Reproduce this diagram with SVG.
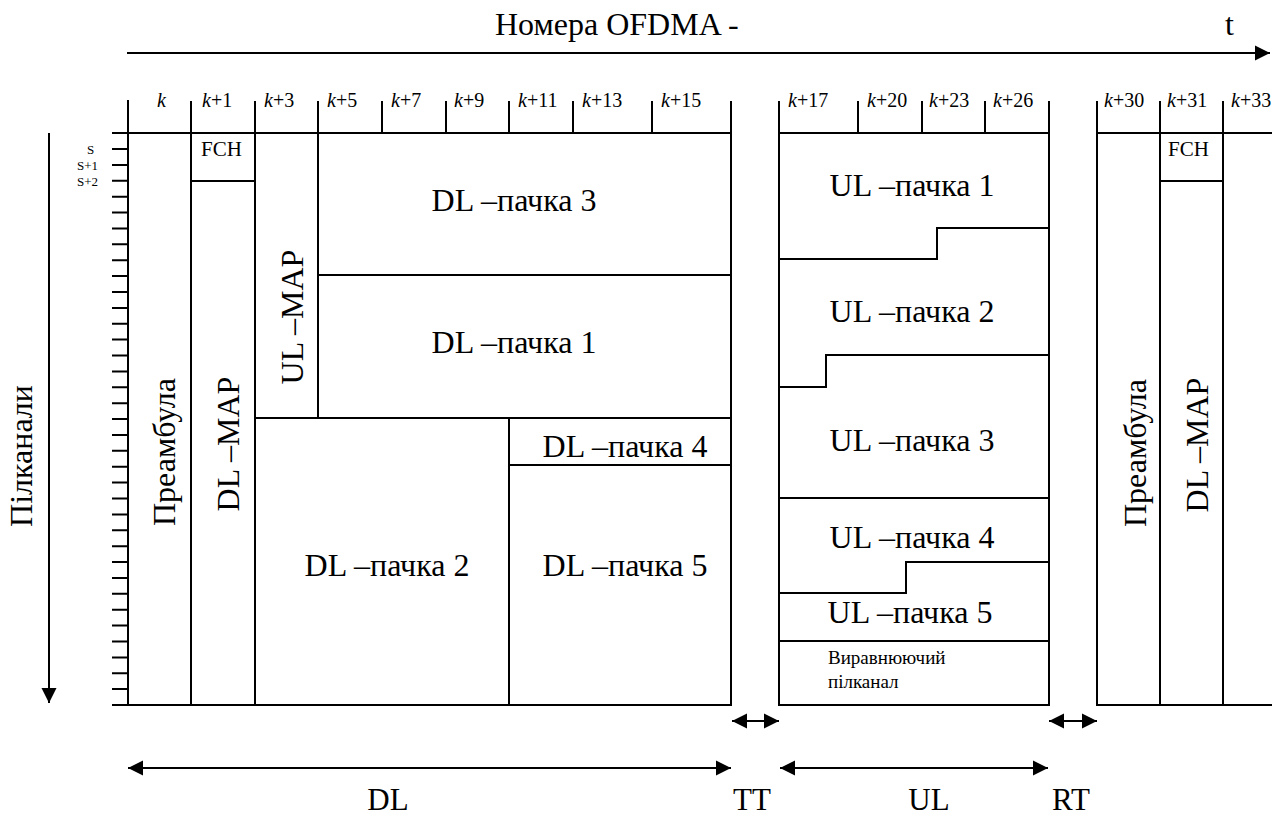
<svg xmlns="http://www.w3.org/2000/svg" width="1286" height="818" viewBox="0 0 1286 818" font-family="'Liberation Serif', 'Times New Roman', 'DejaVu Serif', serif">
<style>
  .ln{fill:none;stroke:#000;stroke-width:2}
  .cell{fill:none;stroke:#000;stroke-width:2}
  text{font-family:'Liberation Serif','Times New Roman','DejaVu Serif',serif;fill:#000}
  .big{font-size:32px}
  .lbl{font-size:20px}
  .sm{font-size:13px}
  .mid{text-anchor:middle}
  .it{font-style:italic}
</style>
<defs>
  <marker id="ah" markerUnits="userSpaceOnUse" markerWidth="16" markerHeight="16" refX="15" refY="8" orient="auto-start-reverse">
    <path d="M0,0.5 L15,8 L0,15.5 z" fill="#000"/>
  </marker>
</defs>
<rect width="1286" height="818" fill="#fff"/>

<!-- axes / scales -->
<g id="scales">
  <text class="big" x="495" y="35">Номера OFDMA -</text>
  <text class="big" x="1225" y="35">t</text>
  <g class="lbl">
    <text x="157" y="107" class="lbl it">k</text>
    <text x="202" y="107" class="lbl"><tspan class="it">k</tspan>+1</text>
    <text x="264" y="107" class="lbl"><tspan class="it">k</tspan>+3</text>
    <text x="327" y="107" class="lbl"><tspan class="it">k</tspan>+5</text>
    <text x="391" y="107" class="lbl"><tspan class="it">k</tspan>+7</text>
    <text x="454" y="107" class="lbl"><tspan class="it">k</tspan>+9</text>
    <text x="518" y="107" class="lbl"><tspan class="it">k</tspan>+11</text>
    <text x="582" y="107" class="lbl"><tspan class="it">k</tspan>+13</text>
    <text x="661" y="107" class="lbl"><tspan class="it">k</tspan>+15</text>
    <text x="788" y="107" class="lbl"><tspan class="it">k</tspan>+17</text>
    <text x="867" y="107" class="lbl"><tspan class="it">k</tspan>+20</text>
    <text x="929" y="107" class="lbl"><tspan class="it">k</tspan>+23</text>
    <text x="993" y="107" class="lbl"><tspan class="it">k</tspan>+26</text>
    <text x="1104" y="107" class="lbl"><tspan class="it">k</tspan>+30</text>
    <text x="1167" y="107" class="lbl"><tspan class="it">k</tspan>+31</text>
    <text x="1231" y="107" class="lbl"><tspan class="it">k</tspan>+33</text>
  </g>
  <g>
    <text class="sm" x="87" y="154">S</text>
    <text class="sm" x="77" y="170">S+1</text>
    <text class="sm" x="77" y="186">S+2</text>
  </g>
  <text class="big mid" transform="translate(32,456) rotate(-90)">Пілканали</text>
  <!-- top ticks and frame lines -->
  <path class="ln" d="M128,100 V705 M191,101 V133 M255,101 V133 M318,101 V133 M382,101 V133 M446,101 V133 M509,101 V133 M573,101 V133 M652,101 V133 M731,101 V705
    M779,101 V705 M858,101 V133 M922,101 V133 M985,101 V133 M1049,101 V705
    M1097,101 V705 M1160,101 V133 M1223,101 V133
    M112,133 H731 M112,705 H731 M779,133 H1049 M779,705 H1049 M1097,133 H1272 M1097,705 H1272"/>
  <!-- left ticks -->
  <path class="ln" d="M112,149 H128 M112,164.9 H128 M112,180.8 H128 M112,196.7 H128 M112,212.5 H128 M112,228.4 H128 M112,244.3 H128 M112,260.2 H128 M112,276.1 H128 M112,292 H128 M112,307.9 H128 M112,323.7 H128 M112,339.6 H128 M112,355.5 H128 M112,371.4 H128 M112,387.3 H128 M112,403.2 H128 M112,419.1 H128 M112,435 H128 M112,450.8 H128 M112,466.7 H128 M112,482.6 H128 M112,498.5 H128 M112,514.4 H128 M112,530.3 H128 M112,546.2 H128 M112,562 H128 M112,577.9 H128 M112,593.8 H128 M112,609.7 H128 M112,625.6 H128 M112,641.5 H128 M112,657.4 H128 M112,673.2 H128 M112,689.1 H128"/>
</g>

<!-- DL subframe -->
<g id="preamble-1">
  <rect class="cell" x="128" y="133" width="63" height="572"/>
  <text class="big mid" transform="translate(175,452) rotate(-90)">Преамбула</text>
</g>
<g id="fch-1">
  <rect class="cell" x="191" y="133" width="64" height="48"/>
  <text font-size="21" x="201" y="156">FCH</text>
</g>
<g id="dl-map-1">
  <rect class="cell" x="191" y="181" width="64" height="524"/>
  <text class="big mid" transform="translate(239,444) rotate(-90)">DL –MAP</text>
</g>
<g id="ul-map">
  <rect class="cell" x="255" y="133" width="63" height="285"/>
  <text class="big mid" transform="translate(303,317) rotate(-90)">UL –MAP</text>
</g>
<g id="dl-burst-3">
  <rect class="cell" x="318" y="133" width="413" height="142"/>
  <text class="big mid" x="514" y="211">DL –пачка 3</text>
</g>
<g id="dl-burst-1">
  <rect class="cell" x="318" y="275" width="413" height="143"/>
  <text class="big mid" x="514" y="353">DL –пачка 1</text>
</g>
<g id="dl-burst-2">
  <rect class="cell" x="255" y="418" width="254" height="287"/>
  <text class="big mid" x="387" y="576">DL –пачка 2</text>
</g>
<g id="dl-burst-4">
  <rect class="cell" x="509" y="418" width="222" height="47"/>
  <text class="big mid" x="625" y="457">DL –пачка 4</text>
</g>
<g id="dl-burst-5">
  <rect class="cell" x="509" y="465" width="222" height="240"/>
  <text class="big mid" x="625" y="576">DL –пачка 5</text>
</g>

<!-- UL subframe -->
<g id="ul-burst-1">
  <path class="cell" d="M779,133 H1049 V228 H937 V259 H779 Z"/>
  <text class="big mid" x="912" y="196">UL –пачка 1</text>
</g>
<g id="ul-burst-2">
  <path class="cell" d="M779,259 H937 V228 H1049 V355 H826 V387 H779 Z"/>
  <text class="big mid" x="912" y="322">UL –пачка 2</text>
</g>
<g id="ul-burst-3">
  <path class="cell" d="M779,387 H826 V355 H1049 V498 H779 Z"/>
  <text class="big mid" x="912" y="451">UL –пачка 3</text>
</g>
<g id="ul-burst-4">
  <path class="cell" d="M779,498 H1049 V562 H906 V593 H779 Z"/>
  <text class="big mid" x="912" y="548">UL –пачка 4</text>
</g>
<g id="ul-burst-5">
  <path class="cell" d="M779,593 H906 V562 H1049 V641 H779 Z"/>
  <text class="big mid" x="910" y="623">UL –пачка 5</text>
</g>
<g id="ranging">
  <rect class="cell" x="779" y="641" width="270" height="64"/>
  <text font-size="19" x="828" y="664">Виравнюючий</text>
  <text font-size="19" x="828" y="688">пілканал</text>
</g>

<!-- next frame -->
<g id="preamble-2">
  <rect class="cell" x="1097" y="133" width="63" height="572"/>
  <text class="big mid" transform="translate(1146,453) rotate(-90)">Преамбула</text>
</g>
<g id="fch-2">
  <rect class="cell" x="1160" y="133" width="63" height="48"/>
  <text font-size="21" x="1168" y="156">FCH</text>
</g>
<g id="dl-map-2">
  <rect class="cell" x="1160" y="181" width="63" height="524"/>
  <text class="big mid" transform="translate(1208,445) rotate(-90)">DL –MAP</text>
</g>

<!-- connectors / arrows -->
<g id="connectors">
  <path class="ln" d="M127,53 H1270" marker-end="url(#ah)"/>
  <path class="ln" d="M49,133 V703" marker-end="url(#ah)"/>
  <path class="ln" d="M732,721 H779" marker-start="url(#ah)" marker-end="url(#ah)"/>
  <path class="ln" d="M1049,721 H1097" marker-start="url(#ah)" marker-end="url(#ah)"/>
  <path class="ln" d="M128,768 H731" marker-start="url(#ah)" marker-end="url(#ah)"/>
  <path class="ln" d="M780,768 H1048" marker-start="url(#ah)" marker-end="url(#ah)"/>
</g>
<g id="span-labels">
  <text font-size="31" class="mid" x="388" y="810">DL</text>
  <text font-size="31" class="mid" x="752" y="810">TT</text>
  <text font-size="31" class="mid" x="929" y="810">UL</text>
  <text font-size="31" class="mid" x="1071" y="810">RT</text>
</g>
</svg>
